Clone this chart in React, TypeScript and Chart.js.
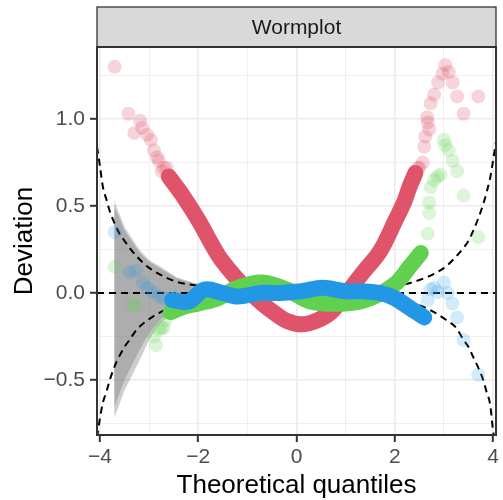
import React, { useEffect, useRef } from 'react';
import { Chart, registerables } from 'chart.js';

Chart.register(...registerables);

const FONT = "'Liberation Sans', Arial, Helvetica, sans-serif";

// axis ticks
const xTicks = [-4, -3, -2, -1, 0, 1, 2, 3, 4];
const xTickLabels = ['−4', '', '−2', '', '0', '', '2', '', '4'];
const yTicks = [-0.75, -0.5, -0.25, 0, 0.25, 0.5, 0.75, 1, 1.25];
const yTickLabels = ['', '−0.5', '', '0.0', '', '0.5', '', '1.0', ''];
const xMajor = [-4, -2, 0, 2, 4];
const yMajor = [-0.5, 0, 0.5, 1];

const stripTitle = 'Wormplot';
const xTitle = 'Theoretical quantiles';
const yTitle = 'Deviation';

// red worm: dense core and sparse tails
const redCoreX = [-2.6, -2.34, -2.0, -1.6, -1.3, -1.0, -0.7, -0.47, -0.2, 0.1, 0.4, 0.7, 1.0, 1.33, 1.7, 2.0, 2.2, 2.3, 2.42];
const redCoreY = [0.67, 0.57, 0.42, 0.22, 0.11, 0.02, -0.06, -0.11, -0.16, -0.18, -0.16, -0.11, -0.01, 0.11, 0.24, 0.41, 0.53, 0.61, 0.69];
const redTailX = [-3.7, -3.42, -3.3, -3.18, -3.14, -3.04, -2.96, -2.9, -2.84, -2.8, -2.74, -2.7, -2.64, 2.47, 2.5, 2.57, 2.6, 2.62, 2.67, 2.66, 2.7, 2.73, 2.8, 2.88, 2.97, 3.03, 3.1, 3.18, 3.27, 3.4, 3.7];
const redTailY = [1.3, 1.03, 0.92, 0.99, 0.95, 0.91, 0.88, 0.82, 0.78, 0.76, 0.7, 0.72, 0.72, 0.72, 0.72, 0.75, 0.84, 0.9, 0.98, 1.01, 0.94, 1.09, 1.14, 1.21, 1.26, 1.31, 1.27, 1.21, 1.13, 1.03, 1.13];

// green worm
const greenCoreX = [-2.56, -2.3, -2.0, -1.6, -1.2, -0.7, -0.2, 0.3, 1.0, 1.5, 2.0, 2.3, 2.53];
const greenCoreY = [-0.11, -0.08, -0.06, -0.03, 0.03, 0.06, 0.02, -0.05, -0.06, -0.03, 0.05, 0.15, 0.23];
const greenTailX = [-3.7, -3.36, -3.27, -2.9, -2.86, -2.8, -2.74, -2.7, -2.66, 2.67, 2.7, 2.7, 2.73, 2.8, 2.87, 2.93, 3.0, 3.03, 3.1, 3.18, 3.27, 3.4, 3.7];
const greenTailY = [0.15, -0.06, -0.08, -0.25, -0.3, -0.21, -0.2, -0.2, -0.155, 0.34, 0.46, 0.52, 0.61, 0.65, 0.67, 0.68, 0.88, 0.85, 0.82, 0.76, 0.7, 0.56, 0.32];

// blue worm
const blueCoreX = [-2.53, -2.2, -1.87, -1.5, -1.2, -0.73, -0.33, 0.1, 0.53, 1.0, 1.33, 1.7, 2.0, 2.33, 2.6];
const blueCoreY = [-0.04, -0.05, 0.02, 0.0, -0.02, 0.0, 0.0, 0.01, 0.03, 0.01, 0.01, 0.0, -0.03, -0.09, -0.14];
const blueTailX = [-3.7, -3.4, -3.27, -3.13, -3.03, -2.93, -2.8, -2.7, 2.67, 2.73, 2.8, 2.87, 3.0, 3.07, 3.17, 3.27, 3.4, 3.7];
const blueTailY = [0.35, 0.12, 0.13, 0.06, 0.03, 0.006, -0.02, -0.03, -0.04, 0.02, 0.03, 0.006, 0.06, 0.0, -0.06, -0.14, -0.27, -0.47];

// confidence bounds (dashed)
const ciX = [-4.06, -4.0, -3.94, -3.86, -3.8, -3.7, -3.6, -3.5, -3.4, -3.25, -3.05, -2.8, -2.5, -2.2, -1.8, -1.2, -0.6, 0, 0.6, 1.2, 1.8, 2.2, 2.5, 2.8, 3.05, 3.25, 3.4, 3.5, 3.6, 3.7, 3.8, 3.86, 3.94, 4.0, 4.06];
const ciUpper = [0.84, 0.73, 0.61, 0.53, 0.47, 0.4, 0.34, 0.3, 0.26, 0.21, 0.155, 0.11, 0.07, 0.05, 0.035, 0.02, 0.012, 0.01, 0.012, 0.02, 0.035, 0.05, 0.075, 0.11, 0.155, 0.21, 0.26, 0.3, 0.36, 0.43, 0.51, 0.57, 0.66, 0.76, 0.87];
const ciLower = [-0.83, -0.72, -0.63, -0.56, -0.5, -0.42, -0.36, -0.31, -0.27, -0.21, -0.16, -0.115, -0.075, -0.05, -0.035, -0.02, -0.012, -0.01, -0.012, -0.02, -0.035, -0.05, -0.07, -0.11, -0.155, -0.2, -0.27, -0.31, -0.37, -0.43, -0.5, -0.56, -0.64, -0.79, -0.9];
const zeroX = [-4.06, 4.06];
const zeroY = [0, 0];

// grey ribbons
const ribbonX = [-3.71, -3.5, -3.2, -3.0, -2.76, -2.44, -2.1, -1.7, -1.4, -1.0];
const ribbon1Upper = [0.53, 0.38, 0.25, 0.19, 0.15, 0.09, 0.06, 0.035, 0.02, 0.005];
const ribbon1Lower = [-0.72, -0.56, -0.39, -0.27, -0.17, -0.11, -0.065, -0.04, -0.025, -0.005];
const ribbon2Upper = [0.5, 0.36, 0.235, 0.18, 0.14, 0.085, 0.055, 0.03, 0.018, 0.005];
const ribbon2Lower = [-0.66, -0.5, -0.33, -0.23, -0.15, -0.1, -0.06, -0.035, -0.02, -0.005];

const RED = '#DF536B';
const GREEN = '#61D04F';
const BLUE = '#2297E6';

const pts = (xs: number[], ys: number[]) => xs.map((x, i) => ({ x, y: ys[i] }));

const near = (arr: number[], v: number) => arr.some((a) => Math.abs(a - v) < 1e-9);

const decorPlugin = {
  id: 'decor',
  afterDraw(chart: any) {
    const { ctx, chartArea } = chart;
    const { left, right, top, bottom } = chartArea;
    ctx.save();
    // strip
    ctx.fillStyle = '#D9D9D9';
    ctx.fillRect(left, 7, right - left, top - 7);
    ctx.strokeStyle = '#333333';
    ctx.lineWidth = 1.3;
    ctx.strokeRect(left, 7, right - left, top - 7);
    ctx.fillStyle = '#1A1A1A';
    ctx.font = `21px ${FONT}`;
    ctx.textAlign = 'center';
    ctx.textBaseline = 'alphabetic';
    ctx.fillText(stripTitle, (left + right) / 2, 33.5);
    // panel border
    ctx.strokeStyle = '#333333';
    ctx.lineWidth = 2;
    ctx.strokeRect(left, top, right - left, bottom - top);
    // axis titles
    ctx.fillStyle = '#000000';
    ctx.font = `26px ${FONT}`;
    ctx.fillText(xTitle, (left + right) / 2, 493);
    ctx.translate(32, (top + bottom) / 2);
    ctx.rotate(-Math.PI / 2);
    ctx.fillText(yTitle, 0, 0);
    ctx.restore();
  },
};

export default function App() {
  const ref = useRef<HTMLCanvasElement | null>(null);

  useEffect(() => {
    if (!ref.current) return;
    const core = (xs: number[], ys: number[], color: string, order: number) => ({
      data: pts(xs, ys),
      showLine: true,
      borderColor: color,
      backgroundColor: color,
      borderWidth: 16,
      borderCapStyle: 'round',
      borderJoinStyle: 'round',
      tension: 0.35,
      pointRadius: 0,
      fill: false,
      order,
    });
    const tail = (xs: number[], ys: number[], color: string, order: number) => ({
      data: pts(xs, ys),
      showLine: false,
      pointRadius: 7,
      pointBorderWidth: 0,
      pointBackgroundColor: color,
      backgroundColor: color,
      borderColor: color,
      order,
    });
    const dashed = (xs: number[], ys: number[]) => ({
      data: pts(xs, ys),
      showLine: true,
      borderColor: '#000000',
      borderWidth: 2,
      borderDash: [7, 5],
      pointRadius: 0,
      cubicInterpolationMode: 'monotone',
      fill: false,
      order: 6,
    });
    const chart = new Chart(ref.current, {
      type: 'scatter',
      data: {
        datasets: [
          // 0,1 ribbon 1
          { data: pts(ribbonX, ribbon1Upper), showLine: true, borderWidth: 0, pointRadius: 0, fill: '+1', backgroundColor: 'rgba(105,105,105,0.33)', order: 9 } as any,
          { data: pts(ribbonX, ribbon1Lower), showLine: true, borderWidth: 0, pointRadius: 0, fill: false, order: 9 } as any,
          // 2,3 ribbon 2
          { data: pts(ribbonX, ribbon2Upper), showLine: true, borderWidth: 0, pointRadius: 0, fill: '+1', backgroundColor: 'rgba(105,105,105,0.33)', order: 8 } as any,
          { data: pts(ribbonX, ribbon2Lower), showLine: true, borderWidth: 0, pointRadius: 0, fill: false, order: 8 } as any,
          dashed(ciX, ciUpper),
          dashed(ciX, ciLower),
          dashed(zeroX, zeroY),
          core(redCoreX, redCoreY, RED, 5),
          tail(redTailX, redTailY, 'rgba(223,83,107,0.25)', 4),
          core(greenCoreX, greenCoreY, GREEN, 3),
          tail(greenTailX, greenTailY, 'rgba(97,208,79,0.22)', 2),
          core(blueCoreX, blueCoreY, BLUE, 1),
          tail(blueTailX, blueTailY, 'rgba(34,151,230,0.2)', 0),
        ] as any,
      },
      options: {
        animation: false,
        responsive: false,
        maintainAspectRatio: false,
        layout: { padding: { top: 47, right: 1, left: 0, bottom: 0 } },
        plugins: { legend: { display: false }, tooltip: { enabled: false } },
        scales: {
          x: {
            type: 'linear',
            min: -4.06,
            max: 4.06,
            afterBuildTicks: (s: any) => {
              s.ticks = xTicks.map((v) => ({ value: v }));
            },
            afterFit: (s: any) => {
              s.height = 65;
              s.paddingLeft = 0;
              s.paddingRight = 0;
            },
            border: { display: false },
            grid: {
              color: '#EBEBEB',
              lineWidth: (c: any) => (near(xMajor, c.tick?.value) ? 1.6 : 0.8),
              tickColor: (c: any) => (near(xMajor, c.tick?.value) ? '#333333' : 'rgba(0,0,0,0)'),
              tickLength: 7,
              tickWidth: 2,
            },
            ticks: {
              autoSkip: false,
              maxRotation: 0,
              padding: 3,
              color: '#4D4D4D',
              font: { family: FONT, size: 21 },
              callback: (v: any) => {
                const i = xTicks.indexOf(v);
                return i >= 0 ? xTickLabels[i] : '';
              },
            },
          },
          y: {
            type: 'linear',
            min: -0.816,
            max: 1.414,
            afterBuildTicks: (s: any) => {
              s.ticks = yTicks.map((v) => ({ value: v }));
            },
            afterFit: (s: any) => {
              s.width = 97;
              s.paddingTop = 0;
              s.paddingBottom = 0;
            },
            border: { display: false },
            grid: {
              color: '#EBEBEB',
              lineWidth: (c: any) => (near(yMajor, c.tick?.value) ? 1.6 : 0.8),
              tickColor: (c: any) => (near(yMajor, c.tick?.value) ? '#333333' : 'rgba(0,0,0,0)'),
              tickLength: 7,
              tickWidth: 2,
            },
            ticks: {
              autoSkip: false,
              padding: 5,
              color: '#4D4D4D',
              font: { family: FONT, size: 21 },
              callback: (v: any) => {
                const i = yTicks.indexOf(v);
                return i >= 0 ? yTickLabels[i] : '';
              },
            },
          },
        },
      } as any,
      plugins: [decorPlugin],
    });
    return () => chart.destroy();
  }, []);

  return (
    <div style={{ position: 'absolute', left: 0, top: 0, width: 503, height: 500, background: '#FFFFFF' }}>
      <canvas ref={ref} width={503} height={500} style={{ display: 'block', width: 503, height: 500 }} />
    </div>
  );
}
